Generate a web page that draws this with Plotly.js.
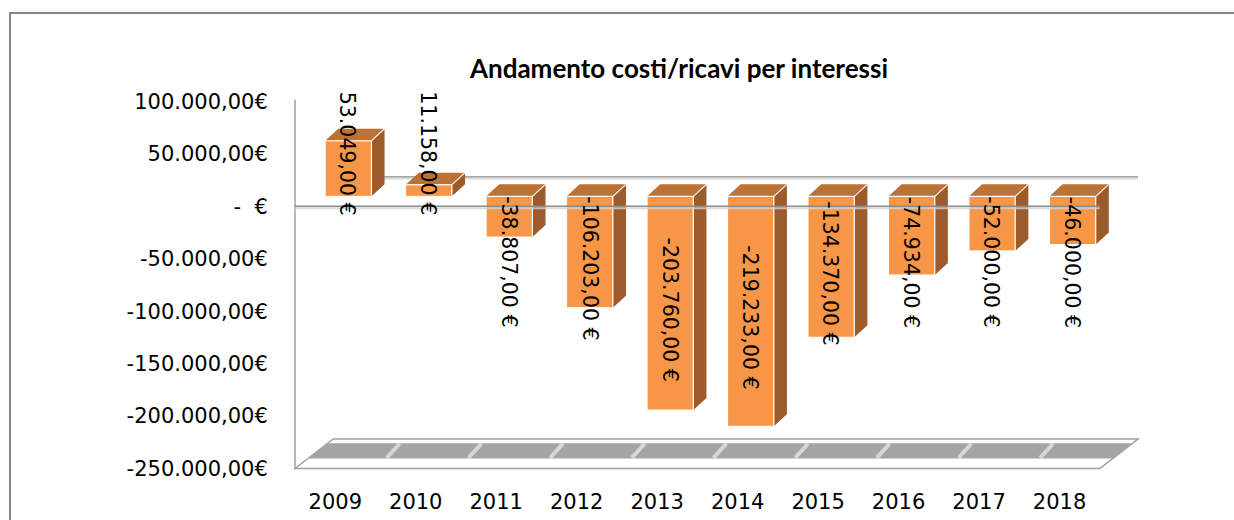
<!DOCTYPE html>
<html><head><meta charset="utf-8">
<script src="https://cdn.plot.ly/plotly-3.0.1.min.js"></script>
<style>html,body{margin:0;padding:0;background:#fff}#chart{width:1234px;height:520px}</style>
</head><body><div id="chart"></div>
<script>
// ---- data ----
const years = ['2009','2010','2011','2012','2013','2014','2015','2016','2017','2018'];
const values = [53049, 11158, -38807, -106203, -203760, -219233, -134370, -74934, -52000, -46000];
const yTickValues = [100000, 50000, 0, -50000, -100000, -150000, -200000, -250000];
const yTickLabels = ['100.000,00€','50.000,00€','-\u00a0\u00a0€','-50.000,00€','-100.000,00€','-150.000,00€','-200.000,00€','-250.000,00€'];

function fmtEuro(v){
  const neg = v < 0; let n = Math.abs(v);
  let s = Math.floor(n).toString().replace(/\B(?=(\d{3})+(?!\d))/g, '.');
  return (neg ? '-' : '') + s + ',00 €';
}
const barLabels = values.map(fmtEuro);

// ---- geometry (pixel-derived scales) ----
const YPX = 350000/367;          // data units per pixel (y)
const XPX = 1/80;                 // category units per pixel (x)
const DX = 38*XPX, DY = 29.5*YPX; // floor / wall depth
const BASE = 10*YPX;              // bar front face zero (perspective lift)
const BOFF = 13*XPX - 23*XPX;     // bar front face left offset
const BW = 46*XPX;                // bar width
const BDX = 13*XPX, BDY = 12*YPX; // bar depth
const idx = years.map((_, i) => i);

// polygons for side and top faces, built from the data
const sideFace = {x:[], y:[]}, topFace = {x:[], y:[]}, edgeLines = {x:[], y:[]};
values.forEach((v, i) => {
  const x0 = i + BOFF, x1 = x0 + BW;
  const yb = BASE, ye = BASE + v;
  sideFace.x.push(x1, x1, x1+BDX, x1+BDX, x1, null);
  sideFace.y.push(yb, ye, ye+BDY, yb+BDY, yb, null);
  const yt = v > 0 ? ye : yb;
  topFace.x.push(x0, x1, x1+BDX, x0+BDX, x0, null);
  topFace.y.push(yt, yt, yt+BDY, yt+BDY, yt, null);
  edgeLines.x.push(x0, x1, x1+BDX, null, x1, x1, null);
  edgeLines.y.push(yt, yt, yt+BDY, null, yt, v > 0 ? yb : ye, null);
});

const traces = [
  {type:'bar', x: idx, y: values, base: BASE, offset: BOFF, width: BW,
   marker:{color:'#F79646', line:{color:'#ffffff', width:1}}, hoverinfo:'skip'},
  {type:'scatter', mode:'lines', x: sideFace.x, y: sideFace.y, fill:'toself', fillcolor:'#9C5B2A',
   line:{width:0, color:'#9C5B2A'}, hoverinfo:'skip'},
  {type:'scatter', mode:'lines', x: topFace.x, y: topFace.y, fill:'toself', fillcolor:'#BD7235',
   line:{width:0, color:'#BD7235'}, hoverinfo:'skip'},
  {type:'scatter', mode:'lines', x: edgeLines.x, y: edgeLines.y,
   line:{width:1.2, color:'rgba(255,255,255,0.9)'}, hoverinfo:'skip'}
];

// ---- decorations ----
const F0 = -250000;
const shapes = [
  {type:'rect', xref:'paper', yref:'paper', x0:(10-290)/850, x1:(1250-290)/850, y0:(472-530)/377, y1:(472-13)/377,
   line:{color:'#868686', width:2}, fillcolor:'rgba(0,0,0,0)', layer:'below'},
  {type:'path', xref:'x', yref:'y', layer:'below',
   path:`M ${-0.5},${F0} L ${9.5},${F0} L ${9.5+DX},${F0+DY} L ${-0.5+DX},${F0+DY} Z`,
   fillcolor:'#ffffff', line:{color:'#a0a0a0', width:1.5}},
  {type:'path', xref:'x', yref:'y', layer:'below',
   path:`M ${-0.5+0.34*DX},${F0+0.34*DY} L ${9.5+0.34*DX},${F0+0.34*DY} L ${9.5+0.86*DX},${F0+0.86*DY} L ${-0.5+0.86*DX},${F0+0.86*DY} Z`,
   fillcolor:'#a4a4a4', line:{width:0}},
  {type:'line', xref:'x', yref:'y', layer:'below', x0:-0.5+DX, x1:9.5+DX, y0:DY-2*YPX, y1:DY-2*YPX, line:{color:'#e2e2e2', width:2}},
  {type:'line', xref:'x', yref:'y', layer:'below', x0:-0.5+DX, x1:9.5+DX, y0:DY, y1:DY, line:{color:'#a8a8a8', width:1.8}},
  {type:'line', xref:'x', yref:'y', layer:'below', x0:-0.5, x1:-0.5, y0:F0, y1:100000+2*YPX, line:{color:'#a0a0a0', width:1.5}},
  {type:'line', xref:'x', yref:'y', layer:'above', x0:-0.5, x1:9.5, y0:-2*YPX, y1:-2*YPX, line:{color:'rgba(210,210,210,0.8)', width:2}},
  {type:'line', xref:'x', yref:'y', layer:'above', x0:-0.5, x1:9.5, y0:0, y1:0, line:{color:'#8c8c8c', width:1.5}}
];
for (let k = -1; k < 9; k++) {
  const xs = k + 0.72 + 0.015*k;
  shapes.push({type:'line', xref:'x', yref:'y', layer:'below',
    x0: xs - 0.08, y0: F0 + 0.36*DY, x1: xs + 0.08, y1: F0 + 0.84*DY,
    line:{color:'rgba(255,255,255,0.55)', width:4}});
}

// ---- data labels ----
const annotations = values.map((v, i) => {
  const a = {x: i + 0.155, xref:'x', yref:'y', text: barLabels[i], showarrow:false, textangle:90,
    font:{family:'DejaVu Sans', size:20.5, color:'#000'}, xanchor:'center'};
  if (v > 0) { a.y = 100000; a.yanchor = 'top'; a.yshift = 12; }
  else if (Math.abs(v) > 130000) { a.y = BASE + v/2; a.yanchor = 'middle'; a.yshift = -6; }
  else { a.y = BASE; a.yanchor = 'top'; a.yshift = 2; }
  return a;
});

const layout = {
  width:1234, height:520,
  margin:{l:290, r:94, t:95, b:48, pad:0},
  paper_bgcolor:'#ffffff', plot_bgcolor:'rgba(0,0,0,0)',
  showlegend:false, hovermode:false,
  title:{text:'<b>Andamento costi/ricavi per interessi</b>', font:{family:'Lato', size:26, color:'#000'},
    x:679/1234, xanchor:'center', xref:'container', y:1-69/520, yanchor:'middle', yref:'container'},
  xaxis:{range:[-0.5625, 10.0], tickmode:'array', tickvals: idx, ticktext: years,
    showgrid:false, zeroline:false, showline:false, ticks:'outside', ticklen:11, tickcolor:'rgba(0,0,0,0)',
    tickfont:{family:'DejaVu Sans', size:21, color:'#000'}, fixedrange:true},
  yaxis:{range:[-250000 - 3.5*YPX, 100000 + 6.5*YPX], tickmode:'array', tickvals: yTickValues, ticktext: yTickLabels,
    showgrid:false, zeroline:false, showline:false, ticks:'outside', ticklen:17, tickcolor:'rgba(0,0,0,0)',
    tickfont:{family:'DejaVu Sans', size:21, color:'#000'}, fixedrange:true},
  bargap:0,
  shapes: shapes,
  annotations: annotations
};

Plotly.newPlot('chart', traces, layout, {displayModeBar:false, staticPlot:true});
</script>
</body></html>
